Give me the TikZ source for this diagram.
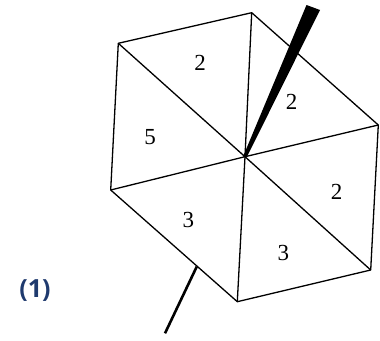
\documentclass[tikz,border=0pt]{standalone}
\usepackage{fontspec}
\usetikzlibrary{calc}
\setmainfont{Liberation Serif}
\newfontfamily\labfont{Open Sans}
\definecolor{navy}{HTML}{1F3A6E}
\begin{document}
\begin{tikzpicture}[x=1pt,y=-1pt,
  edge/.style={line width=1.3pt,line join=round},
  num/.style={font=\fontsize{23}{23}\selectfont,inner sep=0pt}]
\useasboundingbox (0,0) rectangle (380,340);
\coordinate (T) at (251.7,12.7);
\coordinate (UL) at (118.3,43.3);
\coordinate (LL) at (110.7,190);
\coordinate (B) at (237.3,301.7);
\coordinate (BR) at (370.7,270);
\coordinate (R) at (378.3,125);
\coordinate (C) at (245,156.7);
\draw[edge] (T) -- (UL) -- (LL) -- (B) -- (BR) -- (R) -- cycle;
\foreach \p in {T,UL,LL,B,BR,R} \draw[edge] (C) -- (\p);
% thick spike
\fill ($(C)+(-2,0)$) -- (306.5,5) -- (320,10) -- ($(C)+(2,0)$) -- cycle;
% thin stick
\coordinate (S1) at (196.7,266.7);
\coordinate (S2) at (165,333.3);
\draw[line width=2.6pt] (S1) -- (S2);
\node[num] (n1) at (200,63) {2};
\node[num] (n2) at (291.7,101.7) {2};
\node[num] (n3) at (150,136.7) {5};
\node[num] (n4) at (336.7,191.7) {2};
\node[num] (n5) at (188.3,220) {3};
\node[num] (n6) at (283.3,253.3) {3};
\node[font=\labfont\bfseries\fontsize{25}{25}\selectfont,text=navy,inner sep=0pt] (lab) at (35,291) {(1)};
\end{tikzpicture}
\end{document}
